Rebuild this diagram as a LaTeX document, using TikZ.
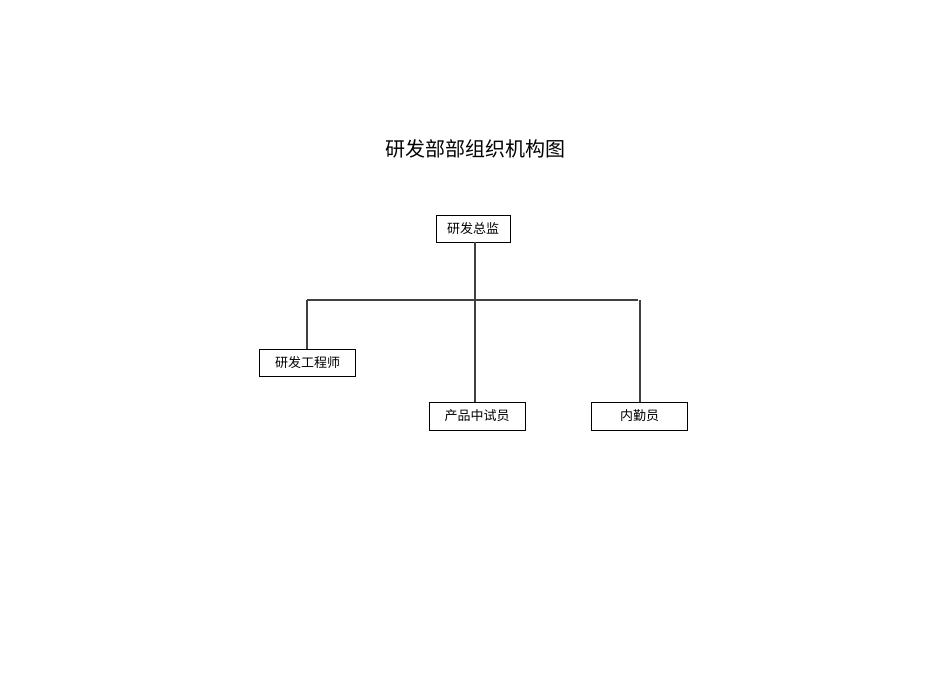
\documentclass[tikz,border=0pt]{standalone}
\usepackage{fontspec}
\newfontfamily\cjk{Noto Sans CJK SC}
\begin{document}
\begin{tikzpicture}[x=1pt,y=-1pt,
  box/.style={draw=black,line width=0.8pt,fill=white,inner sep=0pt,font=\cjk\fontsize{13}{15}\selectfont},
  conn/.style={draw=black!75,line width=1.1pt}]
\useasboundingbox (0,0) rectangle (950,672);
\node[font=\cjk\fontsize{20}{24}\selectfont] (title) at (475.5,149) {研发部部组织机构图};
\node[box,minimum width=74pt,minimum height=27pt] (top) at (473,228.5) {研发总监};
\node[box,minimum width=96pt,minimum height=27pt] (eng) at (307.5,362.5) {研发工程师};
\node[box,minimum width=96pt,minimum height=28pt] (prod) at (477,416) {产品中试员};
\node[box,minimum width=96pt,minimum height=28pt] (off) at (639.5,416) {内勤员};
\coordinate (hl) at (307,300);
\coordinate (hr) at (638,300);
\coordinate (rv) at (640,300);
\draw[conn] (hl) -- (hr);
\draw[conn] (top.south -| 475,0) -- (prod.north -| 475,0);
\draw[conn] (hl) -- (eng.north -| hl);
\draw[conn] (rv) -- (off.north -| rv);
\end{tikzpicture}
\end{document}
